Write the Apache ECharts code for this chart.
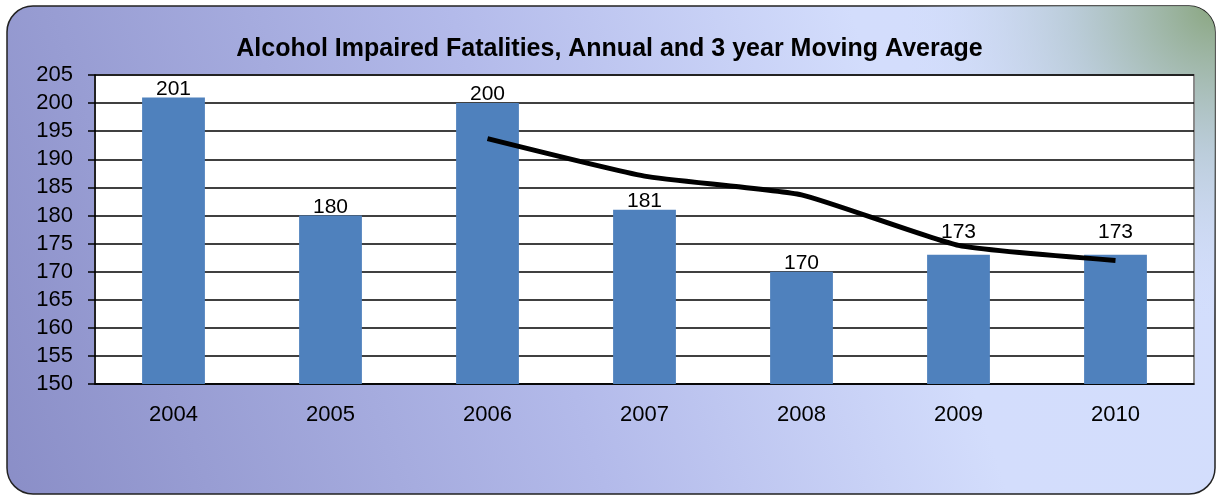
<!DOCTYPE html>
<html><head><meta charset="utf-8">
<script src="https://cdn.jsdelivr.net/npm/echarts@6/dist/echarts.min.js"></script>
<style>html,body{margin:0;padding:0;background:#fff}#c{width:1219px;height:497px}</style>
</head><body><div id="c"></div>
<script>
const categories = ['2004','2005','2006','2007','2008','2009','2010'];
const annual = [201, 180, 200, 181, 170, 173, 173];
const movingAvg = [null, null, 193.67, 187, 183.67, 174.67, 172];
const titleText = 'Alcohol Impaired Fatalities, Annual and 3 year Moving Average';

const chart = echarts.init(document.getElementById('c'));
const font = 'Liberation Sans, Arial, sans-serif';
// labels above the last two bars are lifted clear of the moving-average line
const barData = annual.map((v, i) => i >= 5 ? { value: v, label: { distance: 12 } } : v);
chart.setOption({
  animation: false,
  graphic: [
    { type: 'rect', z: -10, shape: { x: 7, y: 6, width: 1208, height: 488, r: 26 },
      style: { stroke: '#222', lineWidth: 1.5,
        fill: new echarts.graphic.LinearGradient(0, 1, 1, 0.2, [
          { offset: 0, color: '#8A8EC7' },
          { offset: 0.45, color: '#B3BAEA' },
          { offset: 0.75, color: '#D3DDFC' },
          { offset: 1, color: '#D3DEFC' }
        ]) } },
    { type: 'rect', z: -9, shape: { x: 7, y: 6, width: 1208, height: 488, r: 26 },
      style: { fill: new echarts.graphic.RadialGradient(1, 0, 0.65, [
          { offset: 0, color: 'rgba(138,166,128,1)' },
          { offset: 0.45, color: 'rgba(178,198,205,0.75)' },
          { offset: 1, color: 'rgba(211,222,252,0)' }
        ]) } }
  ],
  title: { text: titleText, left: 'center', top: 32,
    textStyle: { fontFamily: font, fontSize: 25, fontWeight: 'bold', color: '#000' } },
  grid: { left: 95, right: 25, top: 75, bottom: 113, show: true,
    backgroundColor: '#fff', borderColor: '#8a8a8a', borderWidth: 2 },
  xAxis: { type: 'category', data: categories,
    axisLine: { lineStyle: { color: '#000', width: 1.5 } },
    axisTick: { length: 7, lineStyle: { color: '#000', width: 1.5 } },
    axisLabel: { color: '#000', fontSize: 22, fontFamily: font, margin: 20 } },
  yAxis: { type: 'value', min: 150, max: 205, interval: 5,
    axisLine: { show: true, lineStyle: { color: '#000', width: 1.5 } },
    axisTick: { show: true, length: 7, lineStyle: { color: '#000', width: 1.5 } },
    axisLabel: { color: '#000', fontSize: 22, fontFamily: font, margin: 22 },
    splitLine: { lineStyle: { color: '#000', width: 1.5 } } },
  series: [
    { type: 'bar', data: barData, barWidth: '40%',
      itemStyle: { color: '#4F81BD' },
      label: { show: true, position: 'top', distance: -2, color: '#000', fontSize: 21, fontFamily: font } },
    { type: 'line', data: movingAvg, smooth: 0.15, showSymbol: false,
      lineStyle: { color: '#000', width: 5 } }
  ]
});
</script></body></html>
